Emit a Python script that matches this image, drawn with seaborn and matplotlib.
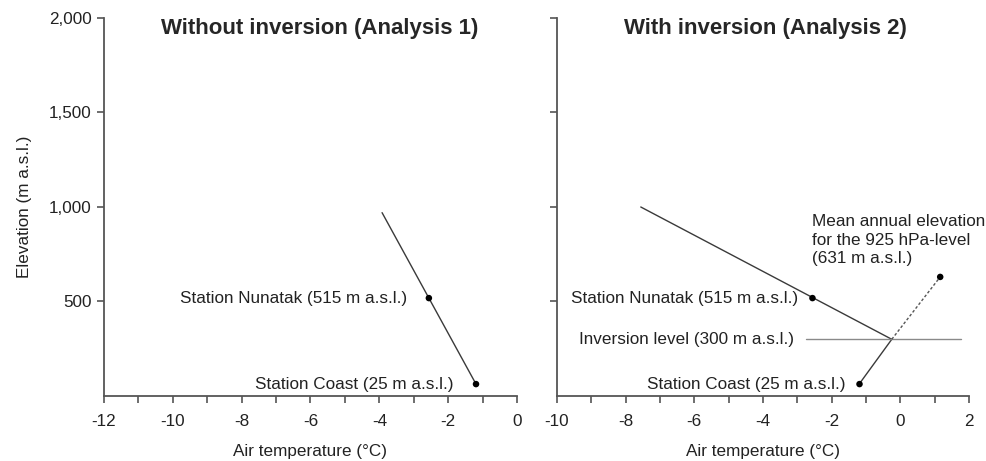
import numpy as np
import pandas as pd
import seaborn as sns
import matplotlib.pyplot as plt

# =============================
# Data
# =============================
station_names = ["Station Nunatak (515 m a.s.l.)", "Station Coast (25 m a.s.l.)"]
station_temp = [-2.56, -1.19]
station_elev = [518, 63]

# Analysis 1: single lapse-rate line
lapse1_temp = [-3.92, -1.19]
lapse1_elev = [970, 63]

# Analysis 2: inversion
upper_temp = [-7.56, -0.25]
upper_elev = [1000, 300]
lower_temp = [-0.25, -1.20]
lower_elev = [300, 63]
p925_temp = [-0.25, 1.16]
p925_elev = [300, 630]
inv_temp = [-2.75, 1.77]
inv_elev = [300, 300]

xticks1 = np.arange(-12, 1, 2)
xticks2 = np.arange(-10, 3, 2)
yticks = [500, 1000, 1500, 2000]

sns.set_style("ticks")
plt.rcParams["font.family"] = ["Liberation Sans", "DejaVu Sans"]

SPINE = "#555555"
LINE = "#3a3a3a"
TXT = "#222222"
FS = 12.3

fig = plt.figure(figsize=(9.86, 4.61), dpi=100)
ax1 = fig.add_axes([0.1055, 0.141, 0.4188, 0.820])
ax2 = fig.add_axes([0.5649, 0.141, 0.4179, 0.820])

pts = pd.DataFrame({"temp": station_temp, "elev": station_elev, "name": station_names})

# =============================
# Left panel
# =============================
sns.lineplot(x=lapse1_temp, y=lapse1_elev, ax=ax1, color=LINE, lw=1, sort=False)
sns.scatterplot(data=pts, x="temp", y="elev", ax=ax1, color="black", s=22,
                edgecolor="none", zorder=5)
ax1.text(-3.20, 518, station_names[0], ha="right", va="center", fontsize=FS, color=TXT)
ax1.text(-1.83, 63, station_names[1], ha="right", va="center", fontsize=FS, color=TXT)
ax1.text(0.523, 0.972, "Without inversion (Analysis 1)", transform=ax1.transAxes,
         ha="center", va="center", fontsize=16, fontweight="bold")
ax1.set_xlim(-12, 0)
ax1.set_xticks(xticks1)
ax1.set_xticks(np.arange(-12, 1, 1), minor=True)
ax1.set_yticks(yticks)
ax1.set_yticklabels([f"{v:,}" for v in yticks])
ax1.set_ylabel("Elevation (m a.s.l.)", fontsize=FS, labelpad=12, color=TXT)

# =============================
# Right panel
# =============================
sns.lineplot(x=upper_temp, y=upper_elev, ax=ax2, color=LINE, lw=1, sort=False)
sns.lineplot(x=lower_temp, y=lower_elev, ax=ax2, color=LINE, lw=1, sort=False)
sns.lineplot(x=inv_temp, y=inv_elev, ax=ax2, color="#8a8a8a", lw=1, sort=False)
sns.lineplot(x=p925_temp, y=p925_elev, ax=ax2, color="#555555", lw=1,
             linestyle=(0, (2, 1.5)), sort=False)
sns.scatterplot(x=station_temp + [p925_temp[1]], y=station_elev + [p925_elev[1]],
                ax=ax2, color="black", s=22, edgecolor="none", zorder=5)
ax2.text(-2.98, 518, station_names[0], ha="right", va="center", fontsize=FS, color=TXT)
ax2.text(-3.10, 300, "Inversion level (300 m a.s.l.)", ha="right", va="center",
         fontsize=FS, color=TXT)
ax2.text(-1.61, 63, station_names[1], ha="right", va="center", fontsize=FS, color=TXT)
ax2.text(-2.57, 825, "Mean annual elevation\nfor the 925 hPa-level\n(631 m a.s.l.)",
         ha="left", va="center", fontsize=FS, linespacing=1.3, color=TXT)
ax2.text(0.507, 0.971, "With inversion (Analysis 2)", transform=ax2.transAxes,
         ha="center", va="center", fontsize=16, fontweight="bold")
ax2.set_xlim(-10, 2)
ax2.set_xticks(xticks2)
ax2.set_xticks(np.arange(-10, 3, 1), minor=True)
ax2.set_yticks(yticks)
ax2.set_yticklabels([])
ax2.set_ylabel("")

for ax in (ax1, ax2):
    ax.set_ylim(0, 2000)
    ax.set_xlabel("Air temperature (°C)", fontsize=FS, labelpad=11, color=TXT)
    sns.despine(ax=ax)
    for s in ("left", "bottom"):
        ax.spines[s].set_color(SPINE)
        ax.spines[s].set_linewidth(1.3)
    ax.tick_params(which="both", direction="out", color=SPINE, width=1.2,
                   length=5, labelsize=FS, labelcolor=TXT)
    ax.tick_params(axis="x", pad=8)
    ax.tick_params(axis="y", pad=4)
    ax.set_xticklabels([str(v) for v in ax.get_xticks()])

plt.savefig("out.png", dpi=100)
